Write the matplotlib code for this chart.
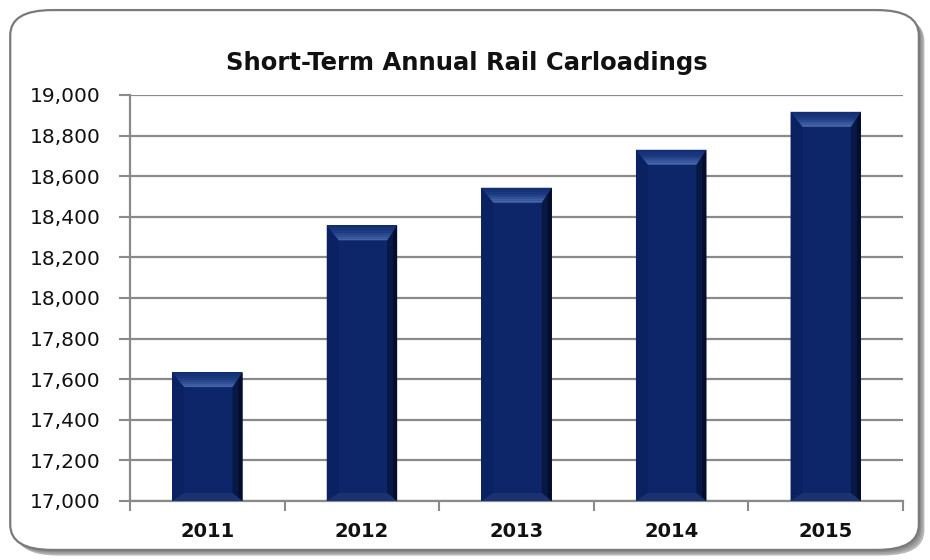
import matplotlib.pyplot as plt
from matplotlib.patches import FancyBboxPatch, Polygon
from matplotlib.colors import LinearSegmentedColormap
import numpy as np

# ------------------ data ------------------
years = ["2011", "2012", "2013", "2014", "2015"]
carloads = [17635, 18358, 18543, 18730, 18917]
y_ticks = [17000, 17200, 17400, 17600, 17800, 18000, 18200, 18400, 18600, 18800, 19000]

FACE = "#0d266a"
GRID = "#8a8a8a"

fig = plt.figure(figsize=(9.3, 5.6), dpi=100)
fig.patch.set_facecolor("white")

# rounded frame with a soft shadow on the right/bottom
for off, col in [(0.010, "#b8b8b8"), (0.007, "#a0a0a0"), (0.004, "#8c8c8c")]:
    fig.patches.append(FancyBboxPatch((0.011 + off * 0.6, 0.018 - off),
                                      0.977, 0.964,
                                      boxstyle="round,pad=0,rounding_size=0.045",
                                      transform=fig.transFigure, facecolor=col,
                                      edgecolor="none", zorder=0))
fig.patches.append(FancyBboxPatch((0.011, 0.018), 0.977, 0.964,
                                  boxstyle="round,pad=0,rounding_size=0.045",
                                  transform=fig.transFigure, facecolor="white",
                                  edgecolor="#7a7a7a", linewidth=1.6, zorder=1))

ax = fig.add_axes([0.1398, 0.1054, 0.8312, 0.725])
ax.set_facecolor("none")
ax.set_zorder(2)

x = np.arange(len(years))
width = 0.455
ax.bar(x, carloads, width=width, bottom=0, color=FACE, zorder=3)

ax.set_xlim(-0.5, len(years) - 0.5)
ax.set_ylim(y_ticks[0], y_ticks[-1])

# bevel shading, sized in pixels and converted to data units
bbox = ax.get_window_extent()
px_x = len(years) / bbox.width
px_y = (y_ticks[-1] - y_ticks[0]) / bbox.height
lw, rw, tw, bw = 12 * px_x, 10 * px_x, 15 * px_y, 8 * px_y
base = y_ticks[0]
top_cols = LinearSegmentedColormap.from_list("top", ["#0e2a6c", "#1f3d84", "#4666aa"])
for xi, val in zip(x, carloads):
    l, r = xi - width / 2, xi + width / 2
    t, b = val, base
    # left and right faces
    ax.add_patch(Polygon([(l, b), (l, t), (l + lw, t - tw), (l + lw, b + bw)],
                         closed=True, facecolor="#0b2262", edgecolor="none", zorder=4))
    ax.add_patch(Polygon([(r, b), (r, t), (r - rw, t - tw), (r - rw, b + bw)],
                         closed=True, facecolor="#071845", edgecolor="none", zorder=4))
    ax.add_patch(Polygon([(r, b), (r, t), (r - rw * 0.4, t - tw * 0.4), (r - rw * 0.4, b)],
                         closed=True, facecolor="#040e2c", edgecolor="none", zorder=4))
    # top face as a gradient going lighter toward the inner edge
    n = 8
    for k in range(n):
        f0, f1 = k / n, (k + 1) / n
        ax.add_patch(Polygon([(l + lw * f0, t - tw * f0), (r - rw * f0, t - tw * f0),
                              (r - rw * f1, t - tw * f1), (l + lw * f1, t - tw * f1)],
                             closed=True, facecolor=top_cols(f1), edgecolor="none", zorder=5))
    # bottom face
    ax.add_patch(Polygon([(l, b), (r, b), (r - rw, b + bw), (l + lw, b + bw)],
                         closed=True, facecolor="#1a3272", edgecolor="none", zorder=5))

ax.set_yticks(y_ticks)
ax.set_yticklabels([f"{v:,}" for v in y_ticks], fontsize=14.5, color="#111111")
ax.set_xticks(x)
ax.set_xticklabels(years, fontsize=14, fontweight="bold", color="#111111")
ax.tick_params(axis="x", length=0, pad=15)
ax.tick_params(axis="y", length=8, width=1.5, color=GRID, pad=13)
ax.set_xticks(np.arange(-0.5, len(years)), minor=True)
ax.tick_params(axis="x", which="minor", length=7, width=1.5, color=GRID)

ax.yaxis.grid(True, color=GRID, linewidth=1.6, zorder=1)
ax.set_axisbelow(True)
for s in ["top", "right"]:
    ax.spines[s].set_visible(False)
for s in ["left", "bottom"]:
    ax.spines[s].set_color(GRID)
    ax.spines[s].set_linewidth(1.6)

fig.text(0.502, 0.887, "Short-Term Annual Rail Carloadings", ha="center", va="center",
         fontsize=17.5, fontweight="bold", color="#111111")

fig.savefig("out.png", dpi=100)
